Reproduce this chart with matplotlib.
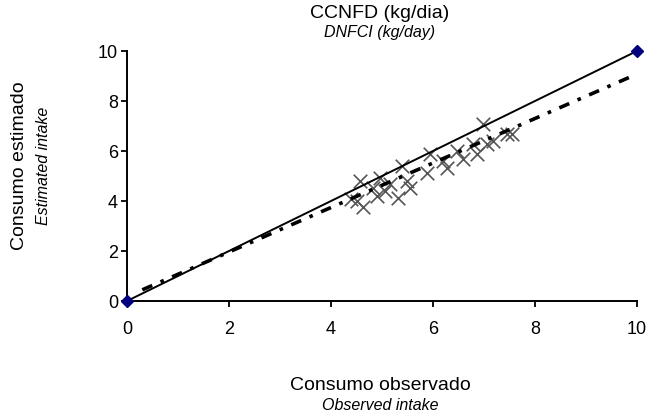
import numpy as np
import matplotlib.pyplot as plt

plt.rcParams['font.family'] = ['Liberation Sans', 'DejaVu Sans']

# observed vs estimated intake (kg/day)
observed = [4.50, 4.57, 4.63, 4.83, 4.90, 4.96, 5.16, 5.31, 5.39, 5.49, 5.55,
            5.88, 5.94, 6.20, 6.27, 6.47, 6.59, 6.78, 6.86, 6.98, 7.06, 7.18,
            7.45, 7.55, 4.40, 5.05]
estimated = [4.00, 4.80, 3.75, 4.52, 4.20, 4.92, 4.68, 4.12, 5.40, 4.80, 4.52,
             5.12, 5.88, 5.60, 5.32, 6.00, 5.68, 6.28, 5.88, 7.08, 6.28, 6.40,
             6.68, 6.68, 4.10, 4.40]

# 1:1 reference line end points
ref_x = [0, 10]
ref_y = [0, 10]

# fitted regression line
fit_slope = 0.89
fit_intercept = 0.18

fig = plt.figure(figsize=(6.49, 4.20), dpi=100)
ax = fig.add_axes([127 / 649, 1 - 301 / 420, 510 / 649, 250 / 420])

ax.scatter(observed, estimated, marker='x', s=95, color='#555555',
           linewidths=1.2, zorder=2)

ax.plot(ref_x, ref_y, color='black', linewidth=1.4, zorder=3)
ax.plot(ref_x, ref_y, linestyle='none', marker='D', markersize=6,
        color='#00007f', clip_on=False, zorder=5)

xf = np.array([0.3, 10])
ax.plot(xf, fit_slope * xf + fit_intercept, color='black', linewidth=2.6,
        linestyle=(0, (3, 2.5, 1, 2.5)), zorder=4)

ax.set_xlim(0, 10)
ax.set_ylim(0, 10)
ax.set_xticks(range(0, 11, 2))
ax.set_yticks(range(0, 11, 2))
ax.tick_params(direction='out', length=4.5, width=1.3, labelsize=13)
ax.tick_params(axis='x', pad=10)
ax.tick_params(axis='y', pad=2)
for s in ['top', 'right']:
    ax.spines[s].set_visible(False)
for s in ['left', 'bottom']:
    ax.spines[s].set_linewidth(1.4)

fig.text(380 / 649, 1 - 14 / 420, 'CCNFD (kg/dia)', ha='center', va='center', fontsize=14)
fig.text(380 / 649, 1 - 33 / 420, 'DNFCI (kg/day)', ha='center', va='center',
         fontsize=11.5, style='italic')
fig.text(380 / 649, 1 - 386 / 420, 'Consumo observado', ha='center', va='center', fontsize=14)
fig.text(380 / 649, 1 - 406 / 420, 'Observed intake', ha='center', va='center',
         fontsize=11.5, style='italic')
fig.text(20 / 649, 1 - 166 / 420, 'Consumo estimado', ha='center', va='center',
         rotation=90, fontsize=14)
fig.text(43 / 649, 1 - 166 / 420, 'Estimated intake', ha='center', va='center',
         rotation=90, fontsize=11.5, style='italic')

fig.savefig('out.png', dpi=100)
